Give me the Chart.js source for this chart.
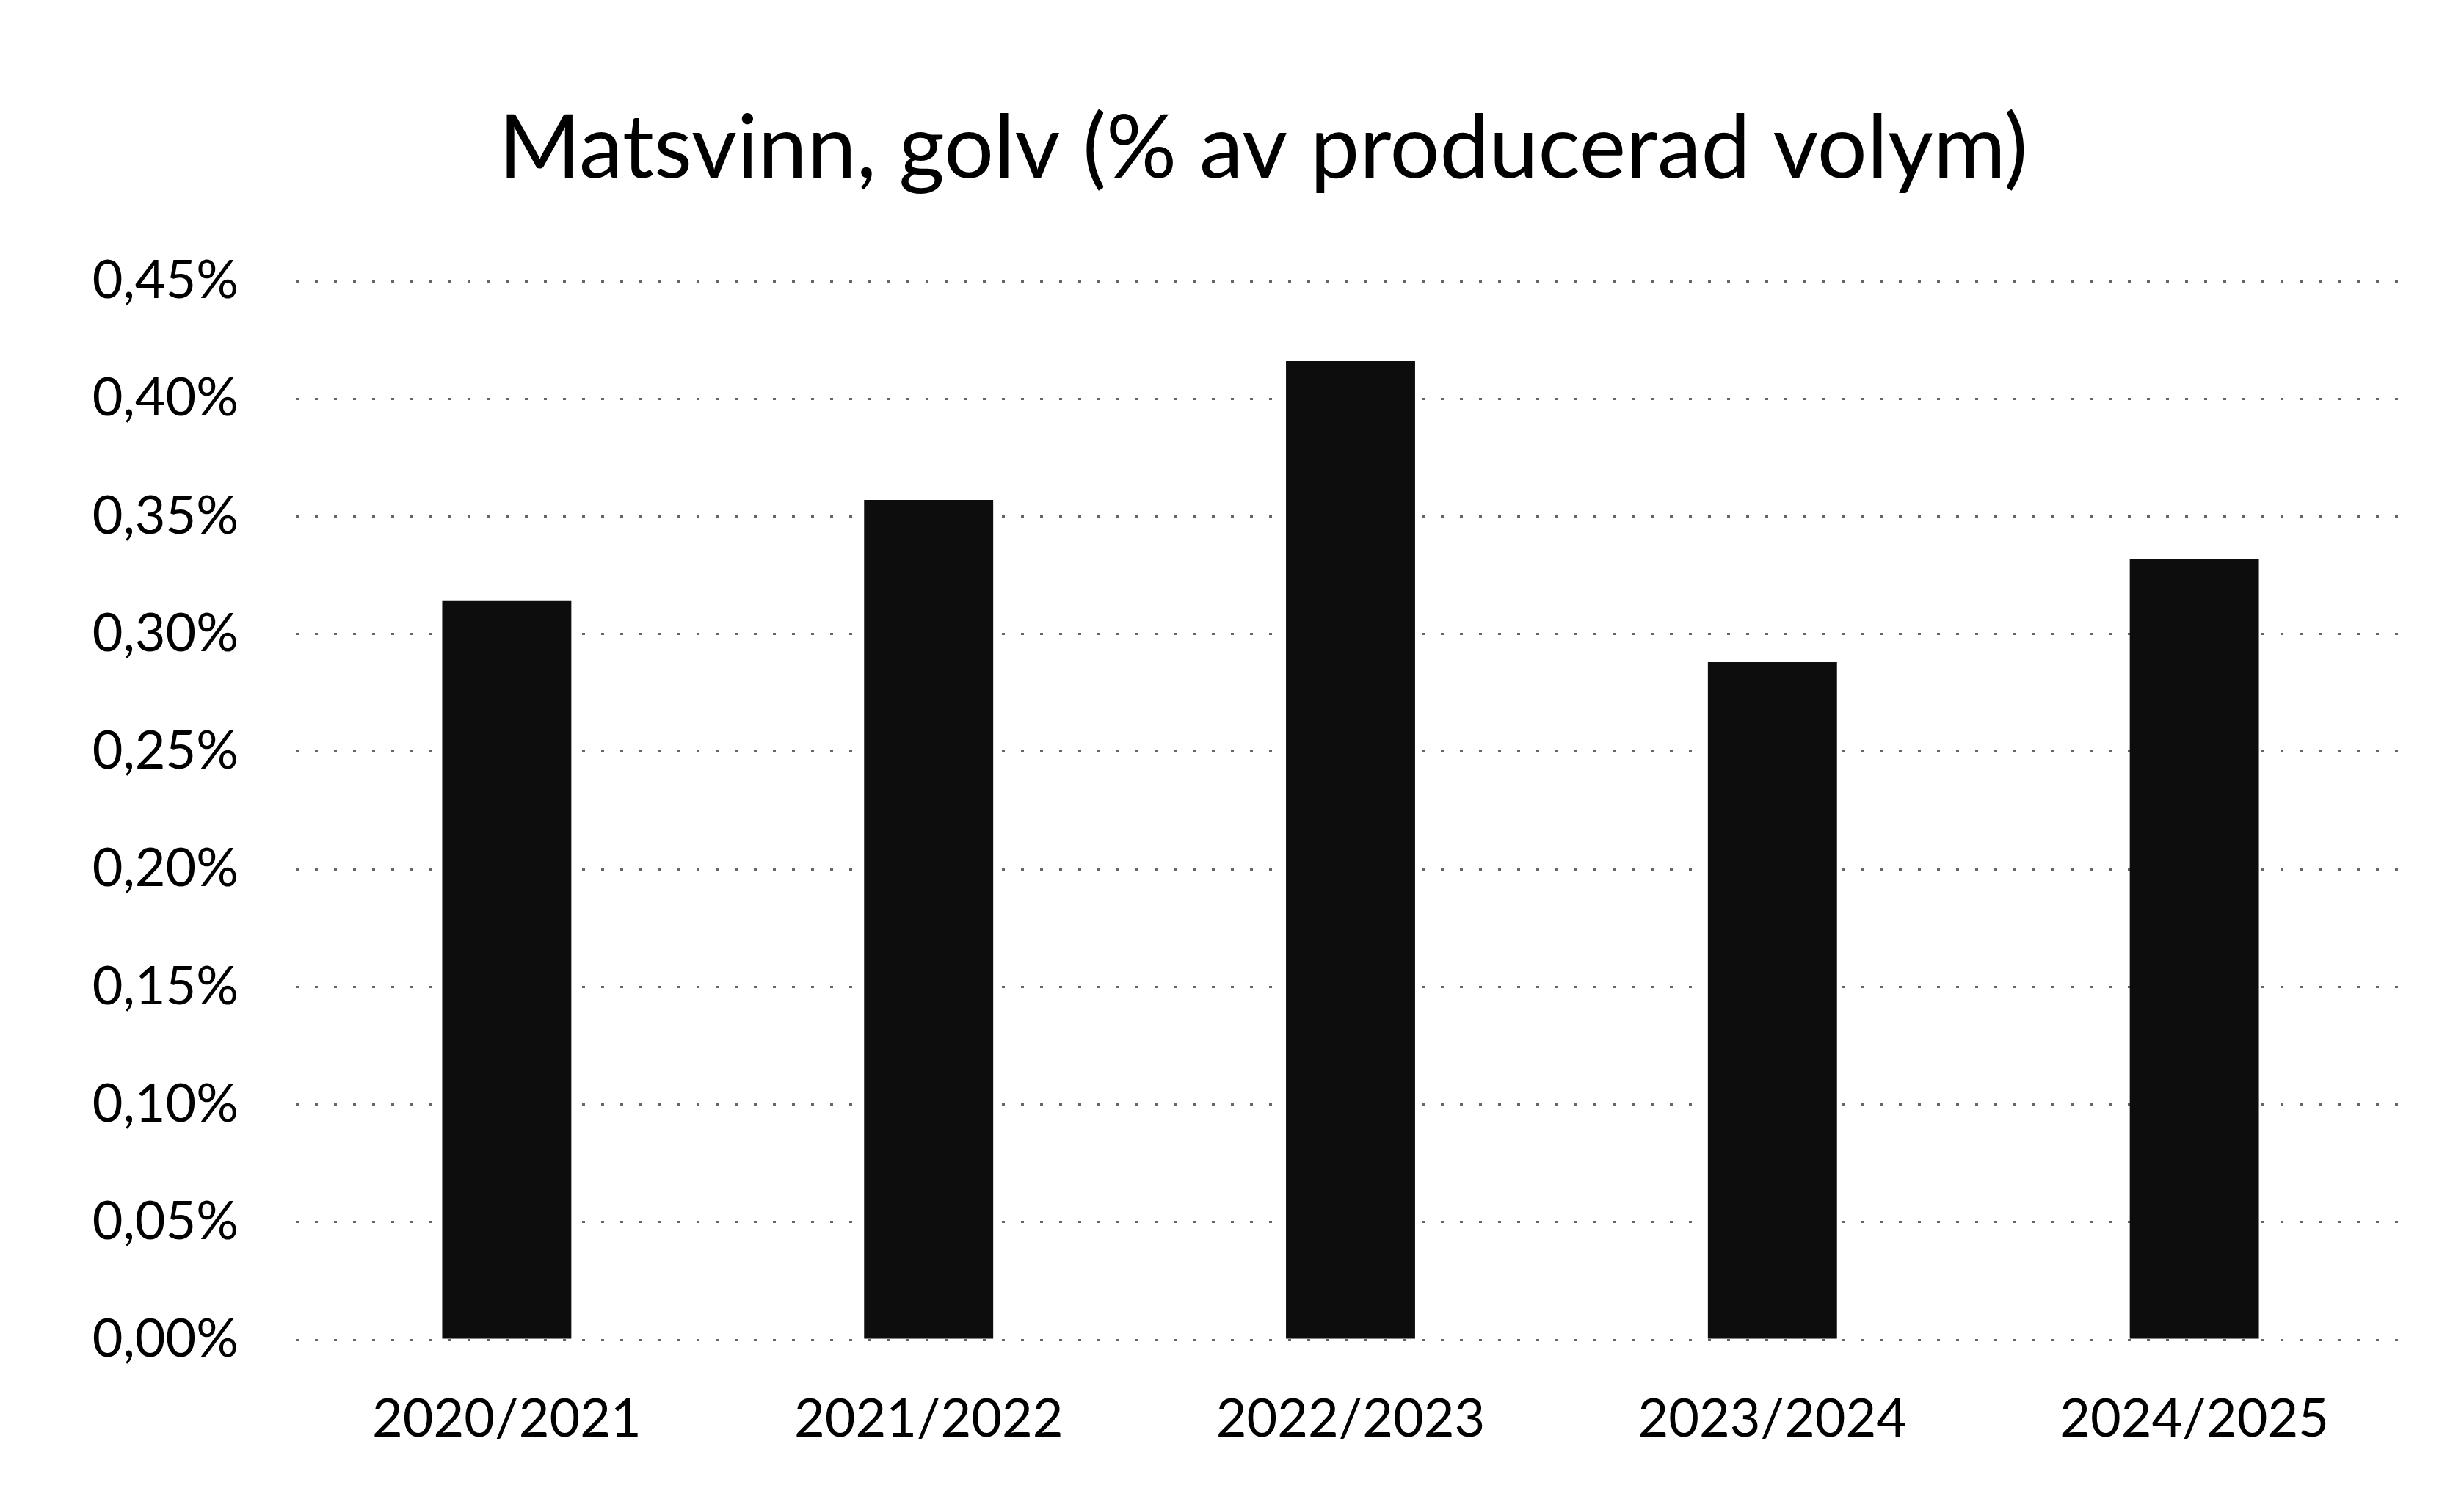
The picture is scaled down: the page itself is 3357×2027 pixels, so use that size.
<!DOCTYPE html>
<html>
<head>
<meta charset="utf-8">
<script src="https://cdn.jsdelivr.net/npm/chart.js@4/dist/chart.umd.min.js"></script>
<style>
  html, body { margin: 0; padding: 0; background: #fff; }
  #wrap { width: 3357px; height: 2027px; position: relative; }
</style>
</head>
<body>
<div id="wrap"><canvas id="c"></canvas></div>
<script>
const categories = ["2020/2021", "2021/2022", "2022/2023", "2023/2024", "2024/2025"];
const wastePercent = [0.314, 0.357, 0.416, 0.288, 0.332];
const yTickMin = 0;
const yTickMax = 0.45;
const yTickStep = 0.05;
const chartTitle = "Matsvinn, golv (% av producerad volym)";

const FONT = "Lato, 'Open Sans', sans-serif";

// shift the title block so that it is centred a little right of the canvas centre, as in the original
const titleShift = {
  id: 'titleShift',
  afterLayout(chart) {
    const tb = chart.titleBlock;
    if (tb) {
      tb.left += 165;
      tb.width = tb.right - tb.left;
    }
  }
};

new Chart(document.getElementById('c'), {
  type: 'bar',
  data: {
    labels: categories,
    datasets: [{
      data: wastePercent,
      backgroundColor: '#0d0d0d',
      borderWidth: 0,
      categoryPercentage: 1,
      barPercentage: 0.306
    }]
  },
  plugins: [titleShift],
  options: {
    responsive: true,
    maintainAspectRatio: false,
    animation: false,
    devicePixelRatio: 1,
    layout: { padding: { left: 0, right: 80, top: 0, bottom: 0 } },
    plugins: {
      legend: { display: false },
      tooltip: { enabled: false },
      title: {
        display: true,
        text: chartTitle,
        color: '#000',
        font: { family: FONT, size: 120, weight: 'normal', lineHeight: 1.2 },
        padding: { top: 131, bottom: 108 }
      }
    },
    scales: {
      x: {
        type: 'category',
        grid: { display: false, drawTicks: false },
        border: { display: false },
        ticks: {
          color: '#000',
          font: { family: FONT, size: 72 },
          padding: 66,
          maxRotation: 0
        },
        afterFit(scale) { scale.height = 202; }
      },
      y: {
        min: yTickMin,
        max: yTickMax,
        grid: {
          color: 'rgba(0,0,0,0.6)',
          lineWidth: 3,
          drawTicks: false
        },
        border: { display: false, dash: [4, 22] },
        ticks: {
          stepSize: yTickStep,
          color: '#000',
          font: { family: FONT, size: 72 },
          padding: 78,
          callback: (v) => v.toFixed(2).replace('.', ',') + '%'
        },
        afterFit(scale) { scale.width = 403; }
      }
    }
  }
});
</script>
</body>
</html>
